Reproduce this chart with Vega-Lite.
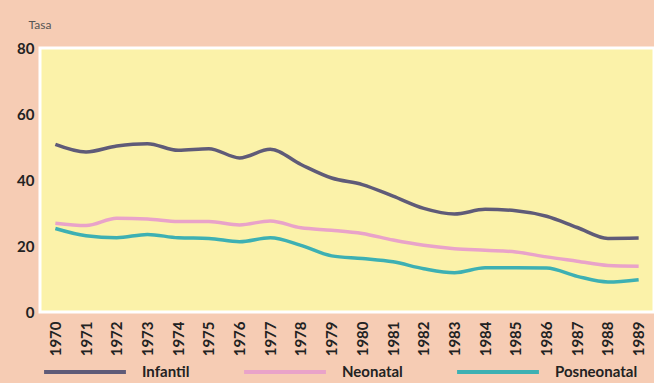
{
  "$schema": "https://vega.github.io/schema/vega-lite/v6.json",
  "width": 614,
  "height": 264,
  "autosize": {"type": "none"},
  "padding": {"left": 40, "top": 48, "right": 0, "bottom": 71},
  "background": "#F6CCB4",
  "config": {
    "view": {"fill": "#FBF2A9", "stroke": "#FFFFFF", "strokeWidth": 3},
    "font": "Lato"
  },
  "data": {
    "values": [
      {"year": "1970", "serie": "Infantil", "tasa": 50.8},
      {"year": "1971", "serie": "Infantil", "tasa": 48.5},
      {"year": "1972", "serie": "Infantil", "tasa": 50.3},
      {"year": "1973", "serie": "Infantil", "tasa": 51.0},
      {"year": "1974", "serie": "Infantil", "tasa": 49.0},
      {"year": "1975", "serie": "Infantil", "tasa": 49.5},
      {"year": "1976", "serie": "Infantil", "tasa": 46.7},
      {"year": "1977", "serie": "Infantil", "tasa": 49.3},
      {"year": "1978", "serie": "Infantil", "tasa": 44.7},
      {"year": "1979", "serie": "Infantil", "tasa": 40.6},
      {"year": "1980", "serie": "Infantil", "tasa": 38.6},
      {"year": "1981", "serie": "Infantil", "tasa": 35.1},
      {"year": "1982", "serie": "Infantil", "tasa": 31.4},
      {"year": "1983", "serie": "Infantil", "tasa": 29.7},
      {"year": "1984", "serie": "Infantil", "tasa": 31.1},
      {"year": "1985", "serie": "Infantil", "tasa": 30.7},
      {"year": "1986", "serie": "Infantil", "tasa": 29.0},
      {"year": "1987", "serie": "Infantil", "tasa": 25.6},
      {"year": "1988", "serie": "Infantil", "tasa": 22.3},
      {"year": "1989", "serie": "Infantil", "tasa": 22.4},
      {"year": "1970", "serie": "Neonatal", "tasa": 26.9},
      {"year": "1971", "serie": "Neonatal", "tasa": 26.2},
      {"year": "1972", "serie": "Neonatal", "tasa": 28.4},
      {"year": "1973", "serie": "Neonatal", "tasa": 28.2},
      {"year": "1974", "serie": "Neonatal", "tasa": 27.4},
      {"year": "1975", "serie": "Neonatal", "tasa": 27.4},
      {"year": "1976", "serie": "Neonatal", "tasa": 26.4},
      {"year": "1977", "serie": "Neonatal", "tasa": 27.6},
      {"year": "1978", "serie": "Neonatal", "tasa": 25.5},
      {"year": "1979", "serie": "Neonatal", "tasa": 24.8},
      {"year": "1980", "serie": "Neonatal", "tasa": 23.8},
      {"year": "1981", "serie": "Neonatal", "tasa": 21.8},
      {"year": "1982", "serie": "Neonatal", "tasa": 20.2},
      {"year": "1983", "serie": "Neonatal", "tasa": 19.2},
      {"year": "1984", "serie": "Neonatal", "tasa": 18.7},
      {"year": "1985", "serie": "Neonatal", "tasa": 18.2},
      {"year": "1986", "serie": "Neonatal", "tasa": 16.7},
      {"year": "1987", "serie": "Neonatal", "tasa": 15.4},
      {"year": "1988", "serie": "Neonatal", "tasa": 14.1},
      {"year": "1989", "serie": "Neonatal", "tasa": 13.9},
      {"year": "1970", "serie": "Posneonatal", "tasa": 25.3},
      {"year": "1971", "serie": "Posneonatal", "tasa": 23.1},
      {"year": "1972", "serie": "Posneonatal", "tasa": 22.5},
      {"year": "1973", "serie": "Posneonatal", "tasa": 23.5},
      {"year": "1974", "serie": "Posneonatal", "tasa": 22.5},
      {"year": "1975", "serie": "Posneonatal", "tasa": 22.3},
      {"year": "1976", "serie": "Posneonatal", "tasa": 21.3},
      {"year": "1977", "serie": "Posneonatal", "tasa": 22.5},
      {"year": "1978", "serie": "Posneonatal", "tasa": 20.2},
      {"year": "1979", "serie": "Posneonatal", "tasa": 17.0},
      {"year": "1980", "serie": "Posneonatal", "tasa": 16.2},
      {"year": "1981", "serie": "Posneonatal", "tasa": 15.2},
      {"year": "1982", "serie": "Posneonatal", "tasa": 13.1},
      {"year": "1983", "serie": "Posneonatal", "tasa": 11.9},
      {"year": "1984", "serie": "Posneonatal", "tasa": 13.4},
      {"year": "1985", "serie": "Posneonatal", "tasa": 13.4},
      {"year": "1986", "serie": "Posneonatal", "tasa": 13.3},
      {"year": "1987", "serie": "Posneonatal", "tasa": 10.8},
      {"year": "1988", "serie": "Posneonatal", "tasa": 9.1},
      {"year": "1989", "serie": "Posneonatal", "tasa": 9.8}
    ]
  },
  "mark": {"type": "line", "strokeWidth": 3.5, "interpolate": "monotone"},
  "encoding": {
    "x": {
      "field": "year",
      "type": "ordinal",
      "scale": {"type": "point", "padding": 0.5},
      "axis": {
        "title": null,
        "labelAngle": -90,
        "labelFontWeight": "bold",
        "labelFontSize": 15,
        "labelColor": "#222222",
        "labelPadding": 9,
        "ticks": false,
        "domain": false,
        "grid": false
      }
    },
    "y": {
      "field": "tasa",
      "type": "quantitative",
      "scale": {"domain": [0, 80], "nice": false},
      "axis": {
        "values": [0, 20, 40, 60, 80],
        "title": "Tasa",
        "titleAngle": 0,
        "titleAlign": "left",
        "titleBaseline": "middle",
        "titleX": -12,
        "titleY": -24,
        "titleFontWeight": "normal",
        "titleFontSize": 12,
        "titleColor": "#555555",
        "labelFontWeight": "bold",
        "labelFontSize": 15,
        "labelColor": "#222222",
        "labelPadding": 6,
        "ticks": false,
        "domain": false,
        "grid": false
      }
    },
    "color": {
      "field": "serie",
      "type": "nominal",
      "scale": {
        "domain": ["Infantil", "Neonatal", "Posneonatal"],
        "range": ["#5F5B78", "#E9A3C9", "#3DB0B3"]
      },
      "legend": {
        "title": null,
        "orient": "none",
        "legendX": 2,
        "legendY": 281,
        "direction": "horizontal",
        "symbolType": "stroke",
        "symbolSize": 6700,
        "symbolStrokeWidth": 4,
        "labelFontSize": 15,
        "labelFontWeight": "bold",
        "labelColor": "#222222",
        "labelOffset": 14,
        "columnPadding": 46,
        "labelLimit": 200
      }
    }
  }
}
